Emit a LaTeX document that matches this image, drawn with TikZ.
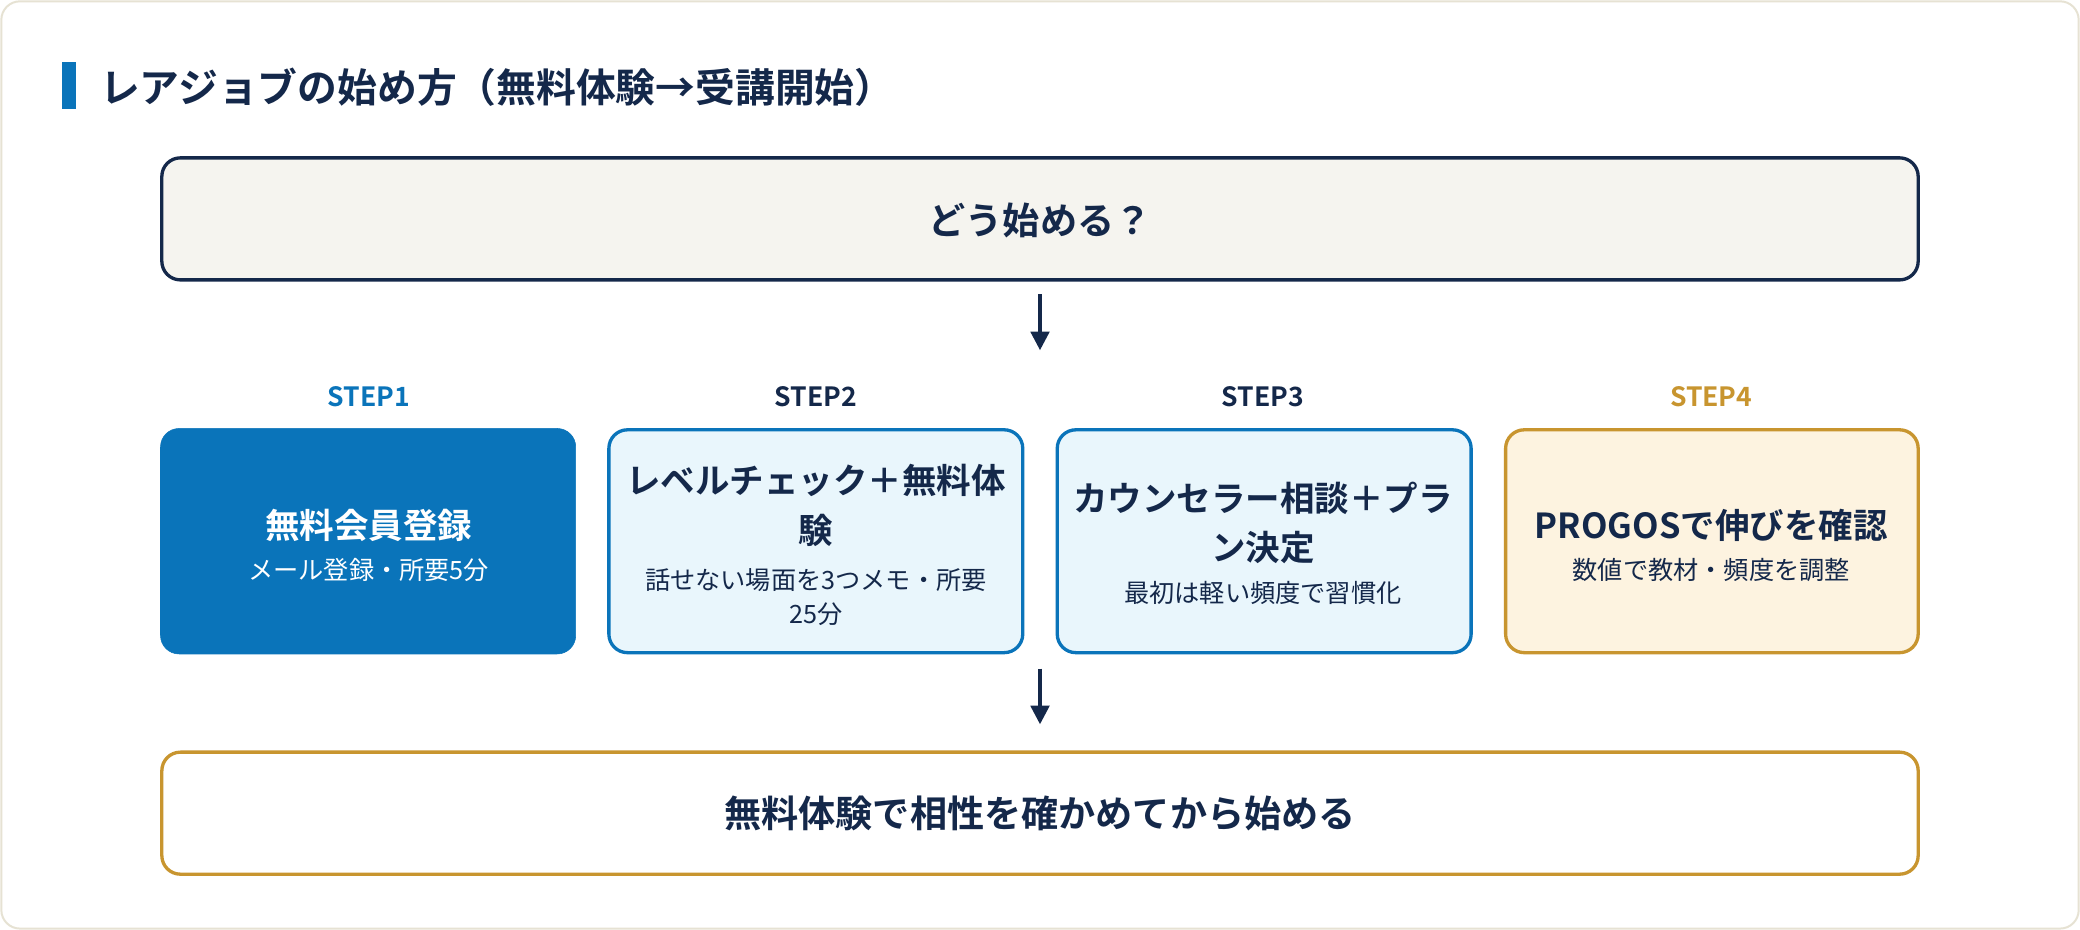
\documentclass[tikz,border=0pt]{standalone}
\usepackage{fontspec}
\setmainfont{Noto Sans CJK JP}[BoldFont={* Bold}]
\usetikzlibrary{arrows.meta}
\definecolor{navy}{HTML}{14284A}
\definecolor{blu}{HTML}{0A74BA}
\definecolor{gold}{HTML}{C8952F}
\definecolor{lb}{HTML}{E9F6FC}
\definecolor{cream}{HTML}{FDF3E0}
\definecolor{gray1}{HTML}{F5F4EF}
\definecolor{edge}{HTML}{E6E2D3}
\tikzset{
 box/.style={rounded corners=14pt,line width=2.5pt,align=center,text=navy,inner sep=0pt},
 steplbl/.style={font=\bfseries\fontsize{20}{24}\selectfont},
 arr/.style={-{Triangle[length=14pt,width=14pt]},line width=2.5pt,draw=navy},
 big/.style={font=\bfseries\fontsize{28}{34}\selectfont},
 head/.style={font=\bfseries\fontsize{26}{37}\selectfont},
 sub/.style={font=\fontsize{19}{26}\selectfont}
}
\begin{document}
\begin{tikzpicture}[x=1pt,y=-1pt]
\useasboundingbox (0,0) rectangle (1568,701);
\draw[edge,fill=white,line width=1.5pt,rounded corners=14pt] (1,1) rectangle (1567,700);
\fill[blu] (47,47) rectangle (57,82);
\node[anchor=west,text=navy,font=\bfseries\fontsize{30}{34}\selectfont] (title) at (72,66) {レアジョブの始め方（無料体験→受講開始）};
\draw[box,draw=navy,fill=gray1] (122,119) rectangle (1446,211);
\node[big,text=navy] (q) at (784,166) {どう始める？};
\coordinate (a1s) at (784,222); \coordinate (a1e) at (784,264);
\draw[arr] (a1s) -- (a1e);
\node[steplbl,text=blu] (s1) at (278,299) {STEP1};
\node[steplbl,text=navy] (s2) at (615,299) {STEP2};
\node[steplbl,text=navy] (s3) at (952,299) {STEP3};
\node[steplbl,text=gold] (s4) at (1290,299) {STEP4};
\draw[rounded corners=14pt,fill=blu,draw=blu] (121,323) rectangle (434,493);
\draw[box,draw=blu,fill=lb] (459,324) rectangle (771,492);
\draw[box,draw=blu,fill=lb] (797,324) rectangle (1109,492);
\draw[box,draw=gold,fill=cream] (1135,324) rectangle (1446,492);
\node[head,text=white] (b1) at (278,396) {無料会員登録};
\node[sub,text=white] (b1s) at (278,430) {メール登録・所要5分};
\node[head,text=navy,align=center] (b2) at (615,381) {レベルチェック＋無料体\\験};
\node[sub,text=navy,align=center] (b2s) at (615,450) {話せない場面を3つメモ・所要\\25分};
\node[head,text=navy,align=center] (b3) at (952,394) {カウンセラー相談＋プラ\\ン決定};
\node[sub,text=navy] (b3s) at (952,447) {最初は軽い頻度で習慣化};
\node[head,text=navy] (b4) at (1290,396) {PROGOSで伸びを確認};
\node[sub,text=navy] (b4s) at (1290,430) {数値で教材・頻度を調整};
\coordinate (a2s) at (784,504); \coordinate (a2e) at (784,546);
\draw[arr] (a2s) -- (a2e);
\draw[box,draw=gold,fill=white] (122,567) rectangle (1446,659);
\node[big,text=navy] (c) at (784,613) {無料体験で相性を確かめてから始める};
\end{tikzpicture}
\end{document}
